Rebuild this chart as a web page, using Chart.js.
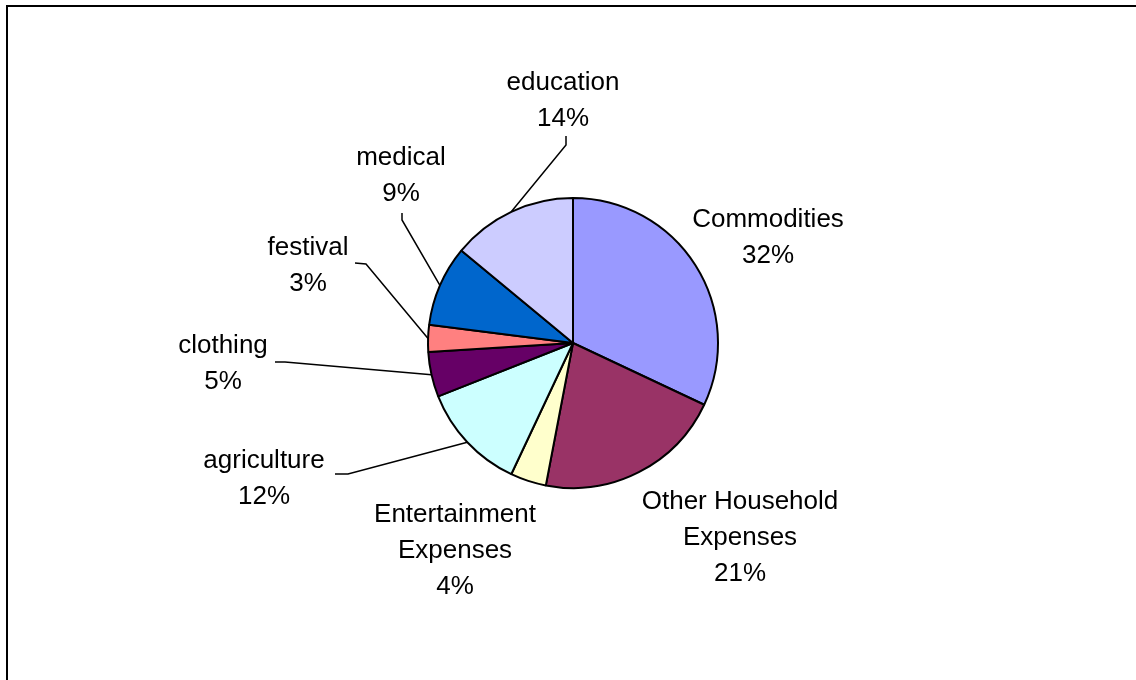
<!DOCTYPE html>
<html>
<head>
<meta charset="utf-8">
<script src="https://cdn.jsdelivr.net/npm/chart.js@4.4.1/dist/chart.umd.min.js"></script>
<style>
  html, body { margin: 0; padding: 0; background: #fff; overflow: hidden; }
  #wrap { position: relative; width: 1136px; height: 680px; }
  #frame { position: absolute; left: 6px; top: 5px; width: 1400px; height: 900px; border: 2px solid #000; }
  #pie { position: absolute; left: 0; top: 0; }
</style>
</head>
<body>
<div id="wrap">
  <div id="frame"></div>
  <canvas id="pie" width="1136" height="680"></canvas>
</div>
<script>
// household spending shares, clockwise from 12 o'clock
const categories = ['Commodities', 'Other Household Expenses', 'Entertainment Expenses', 'agriculture',
                    'clothing', 'festival', 'medical', 'education'];
const shares = [32, 21, 4, 12, 5, 3, 9, 14];
const sliceColors = ['#9999FF', '#993366', '#FFFFCC', '#CCFFFF', '#660066', '#FF8080', '#0066CC', '#CCCCFF'];

// label text lines (category may wrap onto two lines)
const labelLines = [['Commodities'], ['Other Household', 'Expenses'], ['Entertainment', 'Expenses'],
                    ['agriculture'], ['clothing'], ['festival'], ['medical'], ['education']];

// label placement: centre x, baseline of first line; leader = elbow points (null = no leader)
const labelPos = [
  { x: 768, y: 227, leader: null },
  { x: 740, y: 509, leader: null },
  { x: 455, y: 522, leader: null },
  { x: 264, y: 468, leader: [[335, 474], [348, 474]] },
  { x: 223, y: 353, leader: [[275, 362], [285, 362]] },
  { x: 308, y: 255, leader: [[355, 263], [366, 264]] },
  { x: 401, y: 165, leader: [[402, 213], [402, 220]] },
  { x: 563, y: 90,  leader: [[566, 136], [566, 145]] }
];

const FONT = '26px "Liberation Sans", Arial, sans-serif';
const LINE_H = 36;

const pieLabels = {
  id: 'pieLabels',
  afterDatasetsDraw(chart) {
    const ctx = chart.ctx;
    const arcs = chart.getDatasetMeta(0).data;
    ctx.save();
    ctx.font = FONT;
    ctx.fillStyle = '#000';
    ctx.textAlign = 'center';
    ctx.textBaseline = 'alphabetic';
    arcs.forEach((arc, i) => {
      const p = labelPos[i];
      const lines = labelLines[i].concat([shares[i] + '%']);
      lines.forEach((t, k) => ctx.fillText(t, p.x, p.y + k * LINE_H));

      if (p.leader) {
        const { x, y, startAngle, endAngle, outerRadius } =
          arc.getProps(['x', 'y', 'startAngle', 'endAngle', 'outerRadius'], true);
        const mid = (startAngle + endAngle) / 2;
        ctx.beginPath();
        ctx.strokeStyle = '#000';
        ctx.lineWidth = 1.5;
        ctx.moveTo(p.leader[0][0], p.leader[0][1]);
        ctx.lineTo(p.leader[1][0], p.leader[1][1]);
        ctx.lineTo(x + Math.cos(mid) * outerRadius, y + Math.sin(mid) * outerRadius);
        ctx.stroke();
      }
    });
    ctx.restore();
  }
};

new Chart(document.getElementById('pie'), {
  type: 'pie',
  data: {
    labels: categories,
    datasets: [{
      data: shares,
      backgroundColor: sliceColors,
      borderColor: '#000',
      borderWidth: 2
    }]
  },
  options: {
    responsive: false,
    animation: false,
    layout: { padding: { top: 197, bottom: 191, left: 373, right: 363 } },
    plugins: {
      legend: { display: false },
      tooltip: { enabled: false }
    }
  },
  plugins: [pieLabels]
});
</script>
</body>
</html>
